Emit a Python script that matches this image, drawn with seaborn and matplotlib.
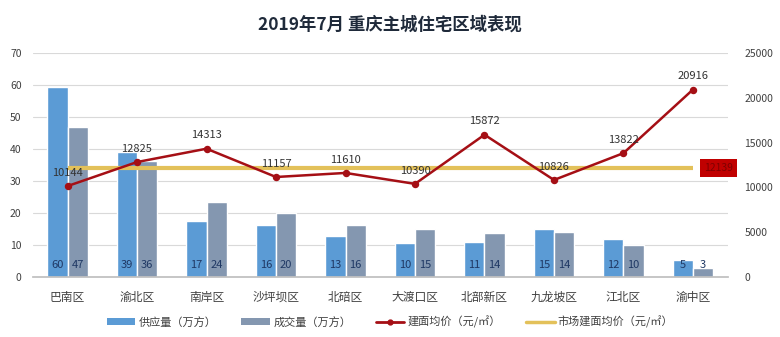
import matplotlib
matplotlib.use("Agg")
import matplotlib.pyplot as plt
import seaborn as sns
import pandas as pd
from matplotlib.patches import Patch
from matplotlib.lines import Line2D

districts = ["巴南区", "渝北区", "南岸区", "沙坪坝区", "北碚区", "大渡口区", "北部新区", "九龙坡区", "江北区", "渝中区"]
supply = [59.4, 39.2, 17.5, 16.2, 12.8, 10.6, 11.0, 15.0, 11.8, 5.4]
supply_labels = ["60", "39", "17", "16", "13", "10", "11", "15", "12", "5"]
deal = [47.0, 36.2, 23.4, 20.0, 16.3, 15.0, 13.8, 14.2, 10.1, 2.7]
deal_labels = ["47", "36", "24", "20", "16", "15", "14", "14", "10", "3"]
price = [10144, 12825, 14313, 11157, 11610, 10390, 15872, 10826, 13822, 20916]
market_price = 12139

series_names = ["供应量（万方）", "成交量（万方）", "建面均价（元/㎡）", "市场建面均价（元/㎡）"]
title = "2019年7月 重庆主城住宅区域表现"

sns.set_theme(style="white")
plt.rcParams['font.family'] = ['Noto Sans CJK SC', 'DejaVu Sans']

c_supply = "#5b9bd5"
c_deal = "#8497b0"
c_line = "#a50f15"
c_mkt = "#e3c15a"
c_txt = "#404040"

df = pd.DataFrame({
    "区域": districts * 2,
    "值": supply + deal,
    "类型": [series_names[0]] * len(districts) + [series_names[1]] * len(districts),
})

fig, ax = plt.subplots(figsize=(7.8, 3.37), dpi=100)
fig.subplots_adjust(left=0.042, right=0.933, top=0.843, bottom=0.178)

sns.barplot(data=df, x="区域", y="值", hue="类型", palette=[c_supply, c_deal],
            width=0.58, gap=0, ax=ax, legend=False, saturation=1)
ax.set_ylim(0, 70)
ax.set_yticks(range(0, 71, 10))
ax.set_xlabel("")
ax.set_ylabel("")
ax.yaxis.grid(True, color="#d9d9d9", linewidth=0.8)
ax.set_axisbelow(True)
for s in ["top", "right", "left"]:
    ax.spines[s].set_visible(False)
ax.spines["bottom"].set_color("#bfbfbf")
ax.tick_params(axis="y", length=0, labelsize=7.5, labelcolor=c_txt, pad=8)
ax.tick_params(axis="x", length=0, labelsize=8.5, labelcolor=c_txt, pad=17)
for lab in ax.get_xticklabels():
    lab.set_verticalalignment("baseline")

# bar labels inside bottom of bars
for cont, labs in zip(ax.containers, [supply_labels, deal_labels]):
    for bar, lab in zip(cont, labs):
        ax.text(bar.get_x() + bar.get_width() / 2, 3.8, lab, ha="center", va="center",
                fontsize=8, color="#1f3864")

ax2 = ax.twinx()
# market average line
ax2.plot([0, len(districts) - 1], [market_price, market_price], color=c_mkt, linewidth=3, zorder=2,
         solid_capstyle="butt")
sns.pointplot(x=districts, y=price, color=c_line, markers="o", markersize=4, linewidth=1.8,
              ax=ax2, zorder=3)
ax2.set_ylim(0, 25000)
ax2.set_yticks(range(0, 25001, 5000))
ax2.set_ylabel("")
for s in ["top", "right", "left", "bottom"]:
    ax2.spines[s].set_visible(False)
ax2.tick_params(axis="y", length=0, labelsize=7.5, labelcolor=c_txt, pad=12)
ax2.set_xlim(-0.5, len(districts) - 0.5)

for i, p in enumerate(price):
    ax2.annotate(str(p), (i, p), xytext=(0, 6), textcoords="offset points", ha="center",
                 va="bottom", fontsize=8, color="#333333")

ax2.text(len(districts) - 1 + 0.37, market_price, str(market_price), ha="center", va="center",
         fontsize=7.5, color="#7f0000",
         bbox=dict(boxstyle="square,pad=0.4", facecolor="#c00000", edgecolor="none"),
         clip_on=False)

fig.suptitle(title, x=0.5, y=0.955, fontsize=12.5, fontweight="bold", color="#1f2a3a")

handles = [
    Patch(facecolor=c_supply, edgecolor="none"),
    Patch(facecolor=c_deal, edgecolor="none"),
    Line2D([0], [0], color=c_line, linewidth=2, marker="o", markersize=3.5),
    Line2D([0], [0], color=c_mkt, linewidth=2.5),
]
fig.legend(handles, series_names, loc="center", bbox_to_anchor=(0.5, 0.045), ncol=4,
           frameon=False, fontsize=8, handlelength=2.6, handleheight=0.5, columnspacing=2.2,
           handletextpad=0.3, labelcolor=c_txt)

fig.savefig("out.png", dpi=100)
